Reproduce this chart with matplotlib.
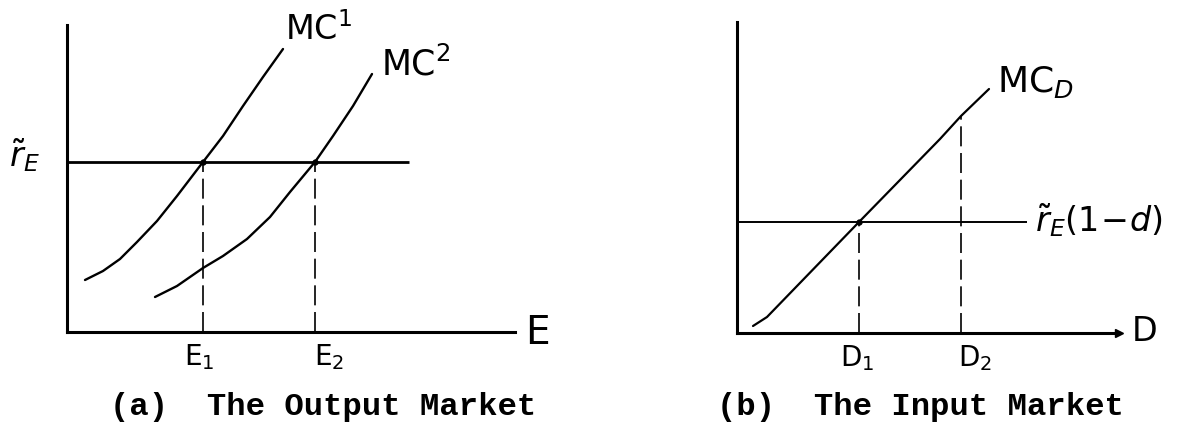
import matplotlib
matplotlib.use("Agg")
import matplotlib.pyplot as plt

# ---------------- data (arbitrary diagram units) ----------------
# Panel (a): the output market
r_E = 4.25                      # horizontal price line level
r_E_end = 8.55                  # where the price line stops
E_points = [3.4, 6.2]           # E1, E2
E_labels = [r"E$_1$", r"E$_2$"]
mc1_x = [0.45, 0.9, 1.325, 1.75, 2.25, 2.75, 3.4, 3.9, 4.4, 4.9, 5.4]
mc1_y = [1.3, 1.525, 1.825, 2.25, 2.775, 3.4, 4.25, 4.9, 5.65, 6.375, 7.075]
mc2_x = [2.2, 2.75, 3.4, 3.9, 4.5, 5.075, 5.575, 6.2, 6.65, 7.15, 7.625]
mc2_y = [0.875, 1.15, 1.6, 1.9, 2.325, 2.875, 3.5, 4.25, 4.9, 5.65, 6.45]

# Panel (b): the input market
r_D = 2.775                     # r_E(1-d) level
r_D_end = 7.25
D_points = [3.05, 5.6]          # D1, D2
D_tops = [2.775, 5.425]         # where dashed lines meet curves
D_labels = [r"D$_1$", r"D$_2$"]
mcd_x = [0.4, 0.75, 3.05, 5.075, 5.6, 6.3]
mcd_y = [0.175, 0.4, 2.775, 4.85, 5.425, 6.1]

captions = ["(a)  The Output Market", "(b)  The Input Market"]

# ---------------- figure ----------------
W, H = 1179, 427
fig = plt.figure(figsize=(W / 100, H / 100), dpi=100)
fig.patch.set_facecolor("white")


def px_axes(x0, y0, x1, y1):
    """axes box from pixel corners (top-left origin)"""
    return fig.add_axes([x0 / W, (H - y1) / H, (x1 - x0) / W, (y1 - y0) / H])


INK = "black"
hand = dict(family="DejaVu Sans", color=INK)

# ---- panel (a)
axa = px_axes(67, 26, 515, 333)
axa.set_xlim(0, 11.2)
axa.set_ylim(0, 7.675)

axa.plot([0, r_E_end], [r_E, r_E], color=INK, lw=2.0, solid_capstyle="butt")
axa.plot(mc1_x, mc1_y, color=INK, lw=1.7, solid_joinstyle="round", solid_capstyle="round")
axa.plot(mc2_x, mc2_y, color=INK, lw=1.7, solid_joinstyle="round", solid_capstyle="round")
for xe in E_points:
    axa.plot([xe, xe], [0, r_E], color=INK, lw=1.2, dashes=(12, 4))
    axa.plot([xe], [r_E], "o", color=INK, ms=3.5)

axa.text(-1.075, 4.45, r"$\tilde{r}_E$", fontsize=24, ha="center", va="center", **hand)
axa.text(5.45, 7.15, r"MC$^1$", fontsize=24, ha="left", va="bottom", **hand)
axa.text(7.85, 6.25, r"MC$^2$", fontsize=25, ha="left", va="bottom", **hand)
axa.text(11.75, 0.0, "E", fontsize=28, ha="center", va="center", **hand)
for xe, lab, dx in zip(E_points, E_labels, [-0.1, 0.35]):
    axa.text(xe + dx, -0.6, lab, fontsize=20, ha="center", va="center", **hand)

# ---- panel (b)
axb = px_axes(737, 23, 1119, 334)
axb.set_xlim(0, 9.55)
axb.set_ylim(0, 7.775)

axb.plot([0, r_D_end], [r_D, r_D], color=INK, lw=1.4, solid_capstyle="butt")
axb.plot(mcd_x, mcd_y, color=INK, lw=1.6, solid_joinstyle="round", solid_capstyle="round")
for xd, yd in zip(D_points, D_tops):
    axb.plot([xd, xd], [0, yd], color=INK, lw=1.2, dashes=(12, 4))
axb.plot([D_points[0]], [r_D], "o", color=INK, ms=3.5)
axb.plot([1], [0], ">", color=INK, ms=6, transform=axb.get_yaxis_transform(), clip_on=False)

axb.text(6.5, 6.3, r"MC$_D$", fontsize=26, ha="left", va="center", **hand)
axb.text(7.45, 2.85, r"$\tilde{r}_E(1\!-\!d)$", fontsize=24, ha="left", va="center", **hand)
axb.text(10.2, 0.05, "D", fontsize=24, ha="center", va="center", **hand)
for xd, lab, dx in zip(D_points, D_labels, [-0.05, 0.35]):
    axb.text(xd + dx, -0.6, lab, fontsize=20, ha="center", va="center", **hand)

for ax in (axa, axb):
    ax.set_facecolor("none")
    for s in ("top", "right"):
        ax.spines[s].set_visible(False)
    for s in ("left", "bottom"):
        ax.spines[s].set_linewidth(2.2)
        ax.spines[s].set_color(INK)
        ax.spines[s].set_capstyle("projecting")
    ax.set_xticks([])
    ax.set_yticks([])
    for t in ax.texts:
        t.set_clip_on(False)

# captions (typewriter style)
cap = dict(family="Liberation Mono", weight="bold", fontsize=23.2, color=INK, va="baseline", ha="left")
fig.text(110 / W, (H - 415) / H, captions[0], **cap)
fig.text(717 / W, (H - 415) / H, captions[1], **cap)

fig.savefig("out.png", dpi=100, facecolor="white")
